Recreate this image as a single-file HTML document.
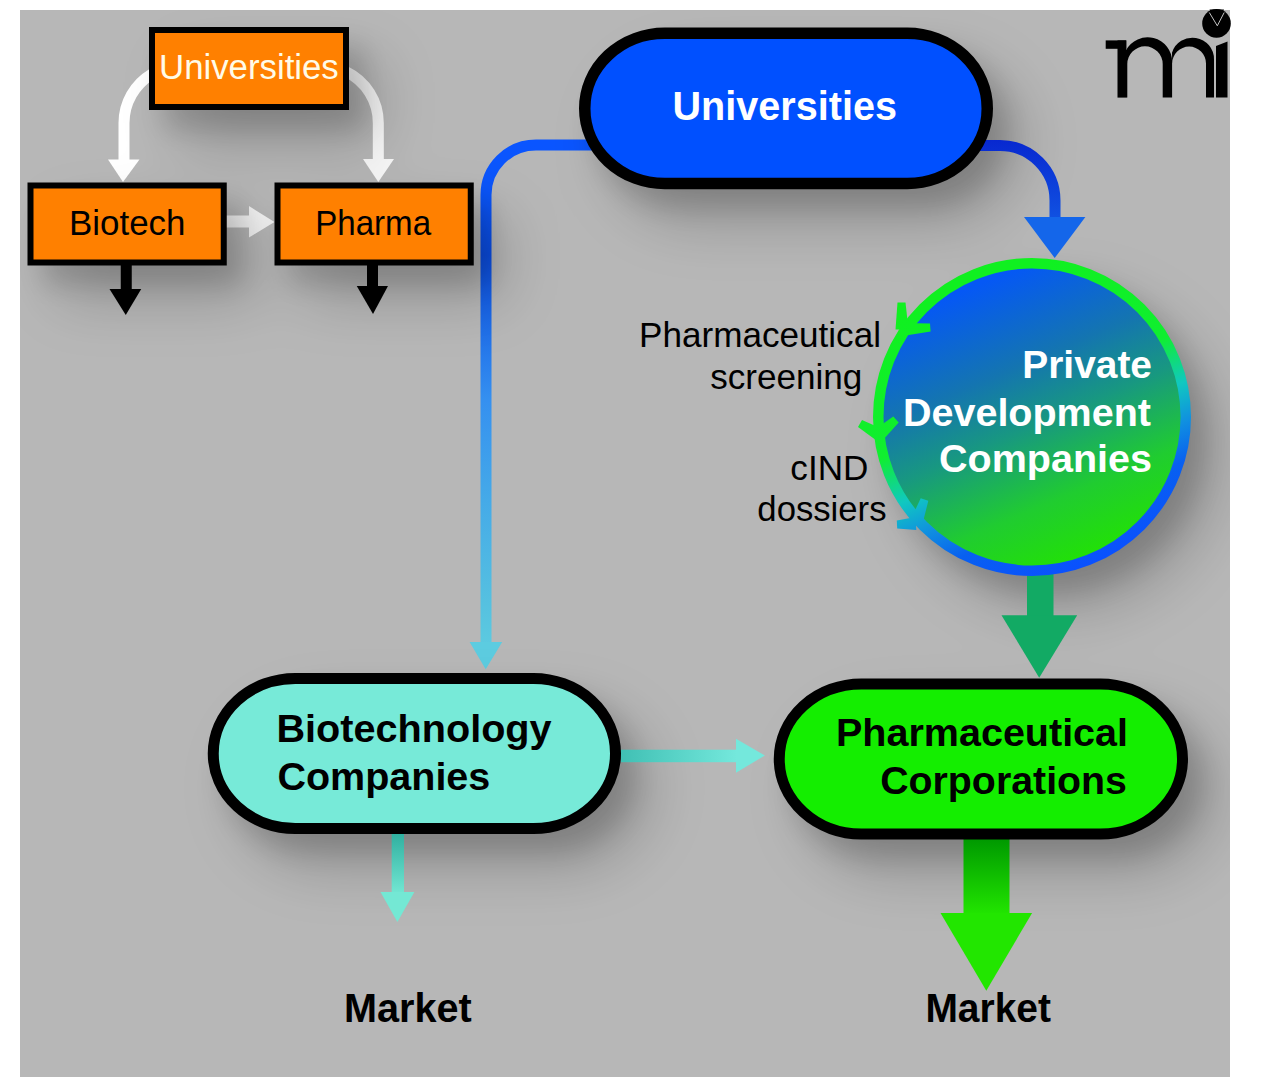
<!DOCTYPE html>
<html><head><meta charset="utf-8">
<style>
html,body{margin:0;padding:0;background:#fff;}
body{width:1280px;height:1077px;overflow:hidden;position:relative;font-family:"Liberation Sans",sans-serif;}
svg{position:absolute;left:0;top:0;}
text{font-family:"Liberation Sans",sans-serif;}
</style></head><body>
<svg width="1280" height="1077" viewBox="0 0 1280 1077">
<defs>
  <filter id="sh" x="-30%" y="-30%" width="160%" height="160%">
    <feGaussianBlur in="SourceAlpha" stdDeviation="13" result="b1"/>
    <feOffset in="b1" dx="15" dy="19" result="o1"/>
    <feComponentTransfer in="o1" result="c1"><feFuncA type="linear" slope="0.14"/></feComponentTransfer>
    <feGaussianBlur in="SourceAlpha" stdDeviation="30" result="b2"/>
    <feOffset in="b2" dx="30" dy="34" result="o2"/>
    <feComponentTransfer in="o2" result="c2"><feFuncA type="linear" slope="0.2"/></feComponentTransfer>
    <feMerge><feMergeNode in="c2"/><feMergeNode in="c1"/></feMerge>
  </filter>
  <clipPath id="clipG"><rect x="20" y="10" width="1210" height="1067"/></clipPath>
  <linearGradient id="gBlueLine" gradientUnits="userSpaceOnUse" x1="0" y1="145" x2="0" y2="670">
    <stop offset="0" stop-color="#0a55ff"/>
    <stop offset="0.105" stop-color="#0a55fa"/>
    <stop offset="0.21" stop-color="#0a4ee8"/>
    <stop offset="0.333" stop-color="#1c6ae8"/>
    <stop offset="0.486" stop-color="#3590f0"/>
    <stop offset="0.676" stop-color="#45aae8"/>
    <stop offset="0.867" stop-color="#55c0e0"/>
    <stop offset="1" stop-color="#60d0e0"/>
  </linearGradient>
  <linearGradient id="gFill" gradientUnits="userSpaceOnUse" x1="965" y1="290" x2="1085" y2="570">
    <stop offset="0" stop-color="#0558f5"/>
    <stop offset="0.3" stop-color="#1475b0"/>
    <stop offset="0.5" stop-color="#189880"/>
    <stop offset="0.75" stop-color="#20cc30"/>
    <stop offset="1" stop-color="#22e400"/>
  </linearGradient>
  <linearGradient id="gRing" gradientUnits="userSpaceOnUse" x1="965" y1="290" x2="1085" y2="570">
    <stop offset="0" stop-color="#10f020"/>
    <stop offset="0.40" stop-color="#10ee30"/>
    <stop offset="0.56" stop-color="#10c8c0"/>
    <stop offset="0.68" stop-color="#1090e0"/>
    <stop offset="0.8" stop-color="#0860f0"/>
    <stop offset="1" stop-color="#0a50ff"/>
  </linearGradient>
  <linearGradient id="gGreenArrow" gradientUnits="userSpaceOnUse" x1="0" y1="840" x2="0" y2="915">
    <stop offset="0" stop-color="#009a00"/>
    <stop offset="1" stop-color="#22e600"/>
  </linearGradient>
  <linearGradient id="gTealDown" gradientUnits="userSpaceOnUse" x1="0" y1="834" x2="0" y2="895">
    <stop offset="0" stop-color="#30b0a0"/>
    <stop offset="1" stop-color="#74e8d4"/>
  </linearGradient>
  <linearGradient id="gTealRight" gradientUnits="userSpaceOnUse" x1="621" y1="0" x2="737" y2="0">
    <stop offset="0" stop-color="#40c0b4"/>
    <stop offset="1" stop-color="#74e8dc"/>
  </linearGradient>
  <linearGradient id="gBlueArc" gradientUnits="userSpaceOnUse" x1="0" y1="140" x2="0" y2="258">
    <stop offset="0" stop-color="#0828d0"/>
    <stop offset="1" stop-color="#1466ea"/>
  </linearGradient>
</defs>

<rect x="20" y="10" width="1210" height="1067" fill="#b7b7b7"/>

<g id="under">
  <path d="M152,73.9 A57,57 0 0 0 124,123 V162" fill="none" stroke="#fff" stroke-width="11"/>
  <polygon points="108,159.6 139.5,159.6 123,182" fill="#fff"/>
  <path d="M346,71.6 A57,57 0 0 1 378.3,123 V162" fill="none" stroke="#f8f8f8" stroke-width="11"/>
  <polygon points="363,159 394,159 378.3,182" fill="#f8f8f8"/>
  <rect x="226" y="215.5" width="24" height="12" fill="#f4f4f4"/>
  <polygon points="249,206 249,237.5 274.5,222" fill="#f4f4f4"/>
  <rect x="120.75" y="263" width="11" height="27" fill="#000"/>
  <polygon points="109.5,289 141.25,289 125.75,315" fill="#000"/>
  <rect x="367" y="259" width="11" height="28" fill="#000"/>
  <polygon points="356.75,286 388,286 373,314" fill="#000"/>
  <path d="M620,145 H536 A50,50 0 0 0 486,195 V645" fill="none" stroke="url(#gBlueLine)" stroke-width="11"/>
  <polygon points="469.6,642 502.2,642 485.7,669.3" fill="#5ccce0"/>
</g>

<g clip-path="url(#clipG)"><g id="shadows" filter="url(#sh)">
  <rect x="152" y="30" width="194" height="77" fill="#000" stroke="#000" stroke-width="6"/>
  <rect x="30.5" y="185.5" width="193.25" height="77" fill="#000" stroke="#000" stroke-width="6"/>
  <rect x="277.5" y="185.5" width="193.25" height="77" fill="#000" stroke="#000" stroke-width="6"/>
  <rect x="584.75" y="33.25" width="402.5" height="150.25" rx="80" ry="75.2" fill="#000" stroke="#000" stroke-width="11.5"/>
  <circle cx="1032" cy="417" r="153.75" fill="#000" stroke="#000" stroke-width="10.5"/>
  <rect x="213.25" y="678.5" width="402.25" height="150" rx="82" ry="75" fill="#000" stroke="#000" stroke-width="11"/>
  <rect x="779.25" y="684" width="403.25" height="150" rx="82" ry="75" fill="#000" stroke="#000" stroke-width="11"/>
</g></g>

<g id="over">
  <path d="M960,145.5 H1000 A55,55 0 0 1 1055,200.5 V219" fill="none" stroke="url(#gBlueArc)" stroke-width="11"/>
  <polygon points="1024,217 1085.4,217 1054.7,258" fill="#1466ea"/>
  <rect x="1027" y="560" width="26.5" height="57" fill="#12aa64"/>
  <polygon points="1001.5,615.3 1077.2,615.3 1039.2,677.7" fill="#12aa64"/>
  <rect x="621" y="749.7" width="116" height="12.5" fill="url(#gTealRight)"/>
  <polygon points="736,738.75 736,772.7 764.8,755.5" fill="#74e8dc"/>
  <rect x="391.7" y="825" width="12.3" height="68" fill="url(#gTealDown)"/>
  <polygon points="380.5,892 414.4,892 397.4,922" fill="#74e8d4"/>
  <rect x="963.5" y="830" width="46" height="84" fill="url(#gGreenArrow)"/>
  <polygon points="940.5,912.9 1032.1,912.9 986.3,990.8" fill="#22e600"/>
</g>

<g id="shapes">
  <rect x="152" y="30" width="194" height="77" fill="#ff8000" stroke="#000" stroke-width="6"/>
  <rect x="30.5" y="185.5" width="193.25" height="77" fill="#ff8000" stroke="#000" stroke-width="6"/>
  <rect x="277.5" y="185.5" width="193.25" height="77" fill="#ff8000" stroke="#000" stroke-width="6"/>
  <rect x="584.75" y="33.25" width="402.5" height="150.25" rx="80" ry="75.2" fill="#0050ff" stroke="#000" stroke-width="11.5"/>
  <circle cx="1032" cy="417" r="153.75" fill="url(#gFill)" stroke="url(#gRing)" stroke-width="10.5"/>
  <rect x="213.25" y="678.5" width="402.25" height="150" rx="82" ry="75" fill="#77ead8" stroke="#000" stroke-width="11"/>
  <rect x="779.25" y="684" width="403.25" height="150" rx="82" ry="75" fill="#14ee00" stroke="#000" stroke-width="11"/>
</g>

<g id="chevrons">
  <polygon points="908.5,329.4 905.5,302.4 897.5,302.6 895.5,329.6" fill="url(#gRing)"/><polygon points="902.5,336.0 930.6,331.5 930.0,323.5 901.5,323.0" fill="url(#gRing)"/>
  <polygon points="882.4,428.9 862.0,419.9 858.0,426.9 875.8,440.1" fill="url(#gRing)"/><polygon points="883.4,439.4 898.7,422.5 893.3,416.5 874.8,429.6" fill="url(#gRing)"/>
  <polygon points="922.1,525.8 928.3,500.8 920.7,498.2 909.9,521.4" fill="url(#gRing)"/><polygon points="915.7,517.1 896.8,520.5 897.2,528.5 916.3,530.1" fill="url(#gRing)"/>
</g>

<!-- texts -->
<g font-family="Liberation Sans, sans-serif">
  <text transform="matrix(0.9856,0,0,1,0.84,0)" x="160.5" y="79" font-size="35.3" fill="#fffbe8">Universities</text>
  <text transform="matrix(0.9701,0,0,1,0.18,0)" x="71" y="235" font-size="36" fill="#000">Biotech</text>
  <text transform="matrix(0.9200,0,0,1,23.52,0)" x="317" y="235" font-size="36" fill="#000">Pharma</text>
  <text transform="matrix(0.9610,0,0,1,25.40,0)" x="673.4" y="120.4" font-size="41.2" font-weight="bold" fill="#fff">Universities</text>
  <text transform="matrix(0.9845,0,0,1,18.83,0)" x="1151" y="377.8" font-size="39.5" font-weight="bold" fill="#fff" text-anchor="end">Private</text>
  <text transform="matrix(1.0000,0,0,1,0.00,0)" x="1151" y="425.6" font-size="39.5" font-weight="bold" fill="#fff" text-anchor="end">Development</text>
  <text transform="matrix(1.0000,0,0,1,1.00,0)" x="1151" y="472.3" font-size="39.5" font-weight="bold" fill="#fff" text-anchor="end">Companies</text>
  <text transform="matrix(0.9975,0,0,1,-0.29,0)" x="641" y="347.4" font-size="35.2" fill="#000">Pharmaceutical</text>
  <text transform="matrix(0.9973,0,0,1,1.10,0)" x="711" y="389" font-size="35.2" fill="#000">screening</text>
  <text transform="matrix(0.9987,0,0,1,0.34,0)" x="791" y="480" font-size="35.2" fill="#000">cIND</text>
  <text transform="matrix(0.9862,0,0,1,10.30,0)" x="757.5" y="521.5" font-size="35.2" fill="#000">dossiers</text>
  <text transform="matrix(1.0037,0,0,1,-2.63,0)" x="278" y="742.5" font-size="39.5" font-weight="bold" fill="#000">Biotechnology</text>
  <text transform="matrix(1.0000,0,0,1,-0.60,0)" x="278" y="790" font-size="39.5" font-weight="bold" fill="#000">Companies</text>
  <text transform="matrix(1.0130,0,0,1,-12.59,0)" x="1126" y="746.3" font-size="39" font-weight="bold" fill="#000" text-anchor="end">Pharmaceutical</text>
  <text transform="matrix(1.0082,0,0,1,-8.26,0)" x="1126" y="793.8" font-size="39" font-weight="bold" fill="#000" text-anchor="end">Corporations</text>
  <text transform="matrix(0.9618,0,0,1,11.28,0)" x="346" y="1022.3" font-size="41.2" font-weight="bold" fill="#000">Market</text>
  <text transform="matrix(0.9455,0,0,1,49.42,0)" x="926.5" y="1022" font-size="41.2" font-weight="bold" fill="#000">Market</text>
</g>

<!-- logo mi -->
<g fill="#000">
  <rect x="1105.7" y="40.4" width="20.5" height="8.4"/>
  <rect x="1117.5" y="40.4" width="8.8" height="57.2"/>
  <path d="M1126,50.3 A24.5,24.5 0 0 1 1172.1,62 V97.6 H1162.7 V64 A17.7,17.7 0 0 0 1127.3,64 V97.6 H1126 Z"/>
  <path d="M1172,52.7 A21.5,21.5 0 0 1 1214,59.5 V97.6 H1206 V63.5 A16.9,16.9 0 0 0 1172.2,63.5 Z"/>
  <path d="M1216,46 L1227.5,41.5 V97.6 H1216 Z"/>
  <circle cx="1216.5" cy="23.4" r="14.3"/>
  <polygon points="1209.5,9.4 1224,9.4 1217.3,25.8"/>
</g>
<path d="M1209.3,12.5 L1217.3,25.8 L1224.2,12.5" fill="none" stroke="#d8d8d8" stroke-width="0.9"/>
</svg>
</body></html>
